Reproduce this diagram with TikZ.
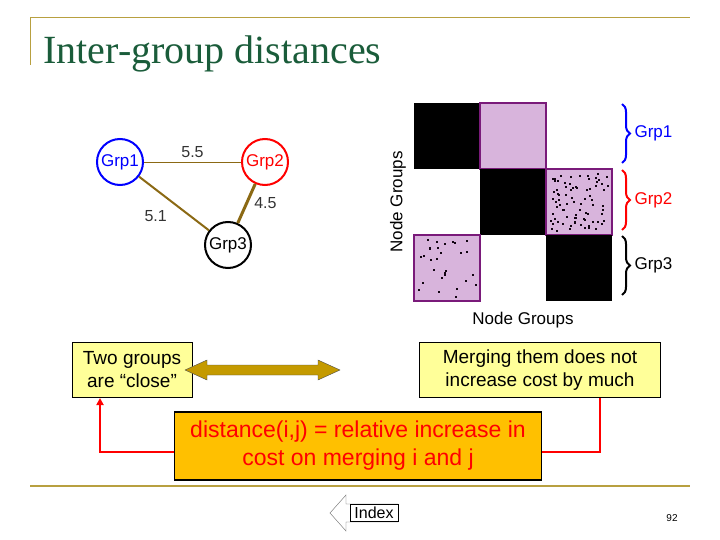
\documentclass[tikz,border=0pt]{standalone}
\usepackage{fontspec}
\setmainfont{Liberation Sans}
\newfontfamily\titlefont{Liberation Serif}
\usetikzlibrary{positioning,decorations.pathreplacing,arrows.meta}
\definecolor{gold}{HTML}{B8A040}
\definecolor{titlegreen}{HTML}{1A5C3A}
\definecolor{edgebrown}{HTML}{8B6914}
\definecolor{blockpurple}{HTML}{D8B4DC}
\definecolor{blockedge}{HTML}{7A1A7A}
\definecolor{boxyellow}{HTML}{FFFF99}
\definecolor{boxorange}{HTML}{FFC000}
\definecolor{arrowgold}{HTML}{C49A00}
\tikzset{
  grp/.style={circle, line width=2pt, minimum size=46pt, inner sep=0pt, font=\fontsize{17}{17}\selectfont},
  edgelbl/.style={font=\fontsize{16}{16}\selectfont, text=black!80},
  cell/.style={minimum size=66pt, inner sep=0pt, draw=none},
  pblock/.style={cell, fill=blockpurple, draw=blockedge, line width=2.5pt},
  note/.style={draw=black, fill=boxyellow, align=center, font=\fontsize{19}{23}\selectfont, inner sep=2pt},
  brace/.style={decorate, decoration={brace, amplitude=8pt}, line width=2pt}
}
\begin{document}
\begin{tikzpicture}[x=1pt,y=-1pt]
    \useasboundingbox (0,0) rectangle (720,540);
    % Frame lines
    \draw[gold, line width=1pt] (30,65) -- (30,18) -- (690,18);
    \draw[gold, line width=1.5pt] (30,486) -- (690,486);
    \node[anchor=base west, text=titlegreen, font=\titlefont\fontsize{40}{40}\selectfont] (title) at (40,64) {Inter-group distances};

    % Group graph
    \node[grp, draw=blue, text=blue] (g1) at (120,162) {Grp1};
    \node[grp, draw=red, text=red] (g2) at (265,162) {Grp2};
    \node[grp, draw=black] (g3) at (228,245) {Grp3};
    \draw[edgebrown, line width=0.8pt] (g1) -- node[edgelbl, above=1pt] {5.5} (g2);
    \draw[edgebrown, line width=2pt] (g1) -- node[edgelbl, below left=4pt] {5.1} (g3);
    \draw[edgebrown, line width=3pt] (g2) -- node[edgelbl, right=3pt] {4.5} (g3);

    % Matrix
    \node[cell, fill=black] (m11) at (447,136) {};
    \node[pblock] (m12) at (513,136) {};
    \node[cell] (m13) at (579,136) {};
    \node[cell] (m21) at (447,202) {};
    \node[cell, fill=black] (m22) at (513,202) {};
    \node[pblock] (m23) at (579,202) {};
    \node[pblock] (m31) at (447,268) {};
    \node[cell] (m32) at (513,268) {};
    \node[cell, fill=black] (m33) at (579,268) {};
    % Sparse dots
    \pgfmathsetseed{7}
    \foreach \i in {1,...,80} {
      \pgfmathsetmacro{\dx}{rnd*58-29}
      \pgfmathsetmacro{\dy}{rnd*58-29}
      \fill[black!85!blockedge] ([xshift=\dx pt, yshift=\dy pt]m23.center) rectangle +(2,2);
    }
    \foreach \i in {1,...,30} {
      \pgfmathsetmacro{\dx}{rnd*58-29}
      \pgfmathsetmacro{\dy}{rnd*58-29}
      \fill[black!85!blockedge] ([xshift=\dx pt, yshift=\dy pt]m31.center) rectangle +(2,2);
    }
    \node[rotate=90, font=\fontsize{17}{17}\selectfont] (ylbl) at (398,202) {Node Groups};
    \node[font=\fontsize{17}{17}\selectfont] (xlbl) at (523,320) {Node Groups};

    % Braces
    \draw[brace, blue] (622,104) -- (622,163) coordinate[midway] (b1);
    \draw[brace, red] (622,170) -- (622,230) coordinate[midway] (b2);
    \draw[brace, black] (622,236) -- (622,295) coordinate[midway] (b3);
    \node[right=9pt of b1, text=blue, font=\fontsize{17}{17}\selectfont] (l1) {Grp1};
    \node[right=9pt of b2, text=red, font=\fontsize{17}{17}\selectfont] (l2) {Grp2};
    \node[right=9pt of b3, font=\fontsize{17}{17}\selectfont] (l3) {Grp3};

    % Notes
    \node[note, minimum width=120pt, minimum height=55pt] (close) at (132,370) {Two groups\\are ``close''};
    \node[note, minimum width=241pt, minimum height=55pt] (merge) at (540,370) {Merging them does not\\increase cost by much};
    \draw[fill=arrowgold, draw=black!70] (185,370) -- (207,360) -- (207,365) -- (318,365) -- (318,360) -- (340,370)
      -- (318,380) -- (318,375) -- (207,375) -- (207,380) -- cycle;
    \node[draw=black, line width=1.5pt, fill=boxorange, text=red, align=center, minimum width=367pt, minimum height=68pt,
      font=\fontsize{23}{28}\selectfont] (dist) at (358,446) {distance(i,j) = relative increase in\\cost on merging i and j};
    \draw[red, line width=2pt, -{Triangle[length=7pt,width=7pt]}] (dist.west |- 0,452) -| (100,398);
    \draw[red, line width=2pt] (600,398) |- (dist.east |- 0,452);

    % Index button
    \draw[fill=white, draw=black!60] (346,495) -- (346,504) -- (398,504) -- (398,522) -- (346,522) -- (346,531) -- (330,513) -- cycle;
    \node[draw=black, fill=white, inner sep=1pt, minimum width=48pt, minimum height=17pt, font=\fontsize{16}{16}\selectfont] (idx) at (374,513) {Index};
    \node[font=\fontsize{10}{10}\selectfont] (page) at (672,518) {92};
\end{tikzpicture}
\end{document}
